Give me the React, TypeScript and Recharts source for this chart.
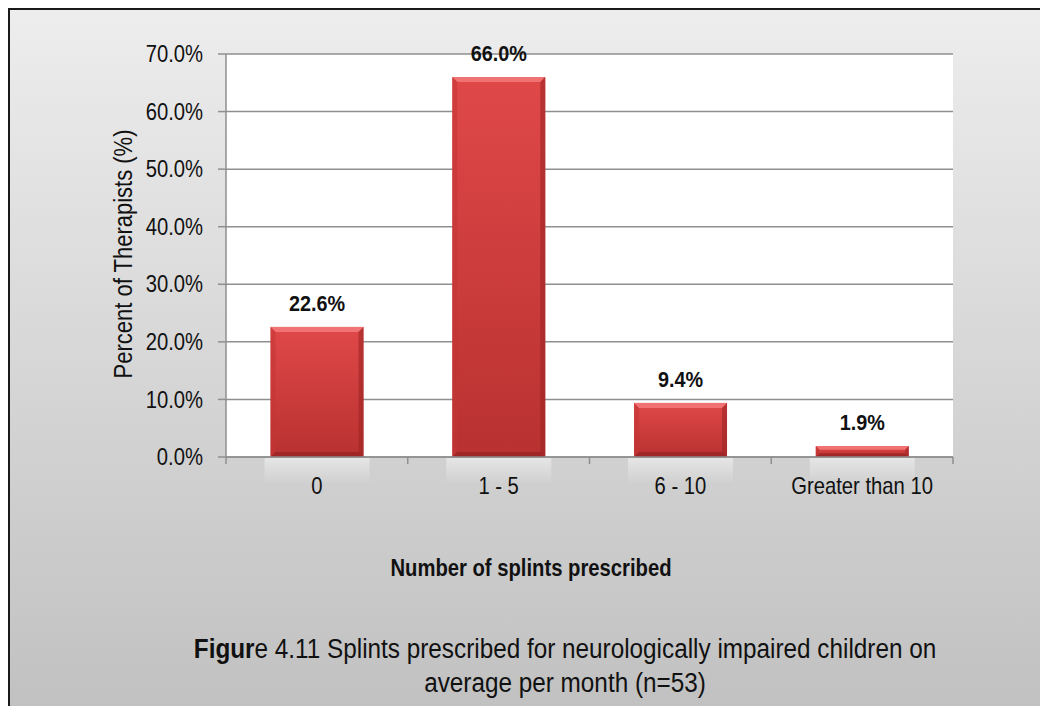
import React from 'react';
import { BarChart, Bar, XAxis, YAxis, CartesianGrid, LabelList } from 'recharts';

const categories = ['0', '1 - 5', '6 - 10', 'Greater than 10'];
const percentValues = [22.6, 66.0, 9.4, 1.9];
const yTicks = [0, 10, 20, 30, 40, 50, 60, 70];
const xAxisTitle = 'Number of splints prescribed';
const yAxisTitle = 'Percent of Therapists (%)';
const captionBold = 'Figur';
const captionLine1 = 'e 4.11 Splints prescribed for neurologically impaired children on';
const captionLine2 = 'average per month (n=53)';

const data = categories.map((c, i) => ({ category: c, value: percentValues[i] }));

const FONT = "'Liberation Sans', Arial, sans-serif";
const GRID = '#8f8f8f';
const NARROW = 0.88;

function BevelBar(props: any) {
  const { x, y, width, height } = props;
  if (!height || height <= 0) return null;
  const b = Math.min(5, height / 3);
  const r = x + width;
  const btm = y + height;
  return (
    <g>
      <rect x={x - 6} y={btm + 1} width={width + 12} height={26} fill="url(#reflect)" />
      <rect x={x} y={y} width={width} height={height} fill="url(#barBody)" />
      <polygon points={`${x},${y} ${r},${y} ${r - b},${y + b} ${x + b},${y + b}`} fill="#f07272" />
      <polygon points={`${x},${y} ${x + b},${y + b} ${x + b},${btm - b} ${x},${btm}`} fill="#c23434" opacity={0.55} />
      <polygon points={`${r},${y} ${r - b},${y + b} ${r - b},${btm - b} ${r},${btm}`} fill="#9e2424" opacity={0.6} />
      <polygon points={`${x},${btm} ${x + b},${btm - b} ${r - b},${btm - b} ${r},${btm}`} fill="#8e1f1f" opacity={0.6} />
    </g>
  );
}

function XTick(props: any) {
  const { x, y, payload, index } = props;
  const off = payload && typeof payload.offset === 'number' ? payload.offset : 0;
  const axisY = y - 21;
  return (
    <g>
      <line x1={x - off} x2={x - off} y1={axisY} y2={axisY + 7} stroke={GRID} strokeWidth={1.5} />
      {index === categories.length - 1 && (
        <line x1={x + off} x2={x + off} y1={axisY} y2={axisY + 7} stroke={GRID} strokeWidth={1.5} />
      )}
      <text
        transform={`translate(${x},${y}) scale(${NARROW},1)`}
        dy="0.71em"
        textAnchor="middle"
        fill="#111"
        fontSize={23}
        fontFamily={FONT}
      >
        {payload.value}
      </text>
    </g>
  );
}

function YTick(props: any) {
  const { x, y, payload } = props;
  return (
    <text
      transform={`translate(${x},${y}) scale(${NARROW},1)`}
      dy="0.355em"
      textAnchor="end"
      fill="#111"
      fontSize={23}
      fontFamily={FONT}
    >
      {`${Number(payload.value).toFixed(1)}%`}
    </text>
  );
}

function BarValueLabel(props: any) {
  const { x, y, width, value } = props;
  const cx = x + width / 2;
  return (
    <text
      transform={`translate(${cx},${y - 16}) scale(0.9,1)`}
      textAnchor="middle"
      fill="#111"
      fontSize={22}
      fontWeight="bold"
      fontFamily={FONT}
    >
      {`${Number(value).toFixed(1)}%`}
    </text>
  );
}

export default function App() {
  return (
    <div
      style={{
        position: 'relative',
        width: 1038,
        height: 696,
        borderLeft: '2px solid #1a1a1a',
        borderTop: '2px solid #1a1a1a',
        background: 'linear-gradient(#ededed, #c1c1c1)',
        overflow: 'hidden',
        fontFamily: FONT,
        color: '#111',
      }}
    >
      <div style={{ position: 'absolute', left: 0, top: 0 }}>
        <BarChart
          width={1038}
          height={520}
          data={data}
          margin={{ top: 44, right: 95, left: 0, bottom: 0 }}
          barCategoryGap="24.5%"
        >
          <defs>
            <linearGradient id="barBody" x1="0" y1="0" x2="0" y2="1">
              <stop offset="0%" stopColor="#e04848" />
              <stop offset="100%" stopColor="#b93131" />
            </linearGradient>
            <linearGradient id="reflect" x1="0" y1="0" x2="0" y2="1">
              <stop offset="0%" stopColor="#ffffff" stopOpacity={0.45} />
              <stop offset="100%" stopColor="#ffffff" stopOpacity={0} />
            </linearGradient>
          </defs>
          <CartesianGrid vertical={false} stroke={GRID} strokeWidth={1.5} fill="#ffffff" />
          <XAxis
            dataKey="category"
            height={73}
            tickLine={false}
            tickSize={7}
            tickMargin={14}
            axisLine={{ stroke: GRID, strokeWidth: 1.5 }}
            tick={<XTick />}
            interval={0}
          />
          <YAxis
            width={216}
            domain={[0, 70]}
            ticks={yTicks}
            tickSize={8}
            tickMargin={15}
            tickLine={{ stroke: GRID, strokeWidth: 1.5 }}
            axisLine={{ stroke: GRID, strokeWidth: 1.5 }}
            tick={<YTick />}
            interval={0}
          />
          <Bar dataKey="value" isAnimationActive={false} shape={<BevelBar />}>
            <LabelList dataKey="value" content={<BarValueLabel />} />
          </Bar>
        </BarChart>
      </div>
      <div
        style={{
          position: 'absolute',
          left: 113,
          top: 244,
          transform: `translate(-50%, -50%) rotate(-90deg) scaleX(${NARROW})`,
          whiteSpace: 'nowrap',
          fontSize: 25,
          lineHeight: '25px',
        }}
      >
        {yAxisTitle}
      </div>
      <div
        style={{
          position: 'absolute',
          left: 521,
          top: 547,
          transform: `translateX(-50%) scaleX(${NARROW})`,
          whiteSpace: 'nowrap',
          fontSize: 23,
          lineHeight: '23px',
          fontWeight: 'bold',
        }}
      >
        {xAxisTitle}
      </div>
      <div
        style={{
          position: 'absolute',
          left: 555,
          top: 622,
          transform: 'translateX(-50%) scaleX(0.9)',
          whiteSpace: 'nowrap',
          fontSize: 27,
          lineHeight: '34px',
          textAlign: 'center',
        }}
      >
        <div>
          <b>{captionBold}</b>
          {captionLine1}
        </div>
        <div>{captionLine2}</div>
      </div>
    </div>
  );
}
